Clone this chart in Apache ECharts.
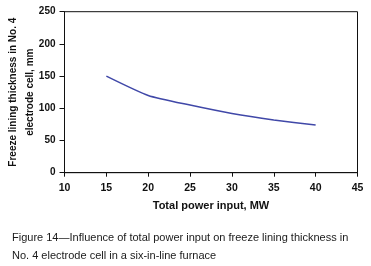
<!DOCTYPE html>
<html>
<head>
<meta charset="utf-8">
<script src="https://cdn.jsdelivr.net/npm/echarts@6/dist/echarts.min.js"></script>
<style>
  html, body { margin: 0; padding: 0; background: #fff; }
  #chart { width: 371px; height: 266px; }
</style>
</head>
<body>
<div id="chart"></div>
<script>
// values
const powerMW = [15, 20, 25, 30, 35, 40]
const thicknessMM = [150, 120, 105, 92, 82, 74]
const xTicks = [10, 15, 20, 25, 30, 35, 40, 45]
const yTicks = [0, 50, 100, 150, 200, 250]
const caption = 'Figure 14\u2014Influence of total power input on freeze lining thickness in\nNo. 4 electrode cell in a six-in-line furnace'

const chart = echarts.init(document.getElementById('chart'))
const font = 'Liberation Sans, Arial, sans-serif'

chart.setOption({
  animation: false,
  backgroundColor: '#fff',
  title: {
    text: caption,
    left: 12,
    top: 229,
    padding: 0,
    textStyle: {
      fontFamily: font,
      fontSize: 11,
      fontWeight: 'normal',
      color: '#1a1a1a',
      lineHeight: 18
    }
  },
  grid: {
    left: 64.5,
    right: 13.5,
    top: 11.7,
    bottom: 93.3,
    outerBoundsMode: 'none',
    containLabel: false,
    show: true,
    borderColor: '#111',
    borderWidth: 1,
    backgroundColor: '#fff'
  },
  xAxis: {
    type: 'value',
    min: xTicks[0],
    max: xTicks[xTicks.length - 1],
    interval: 5,
    name: 'Total power input, MW',
    nameLocation: 'middle',
    nameMoveOverlap: false,
    nameGap: 28,
    nameTextStyle: {
      fontFamily: font,
      fontSize: 11,
      fontWeight: 'bold',
      color: '#111'
    },
    axisLine: { lineStyle: { color: '#111', width: 1 } },
    axisTick: { show: true, inside: false, length: 4, lineStyle: { color: '#111' } },
    axisLabel: {
      fontFamily: font,
      fontSize: 10.5,
      fontWeight: 'bold',
      color: '#111',
      margin: 10
    },
    splitLine: { show: false }
  },
  yAxis: {
    type: 'value',
    min: yTicks[0],
    max: yTicks[yTicks.length - 1],
    interval: 50,
    name: 'Freeze lining thickness in No. 4\nelectrode cell, mm',
    nameLocation: 'middle',
    nameRotate: 90,
    nameMoveOverlap: false,
    nameGap: 26,
    nameTextStyle: {
      fontFamily: font,
      fontSize: 10,
      fontWeight: 'bold',
      color: '#111',
      lineHeight: 17
    },
    axisLine: { show: true, lineStyle: { color: '#111', width: 1 } },
    axisTick: { show: true, inside: false, length: 5, lineStyle: { color: '#111' } },
    axisLabel: {
      fontFamily: font,
      fontSize: 10,
      fontWeight: 'bold',
      color: '#111',
      margin: 9
    },
    splitLine: { show: false }
  },
  series: [{
    type: 'line',
    data: powerMW.map((x, i) => [x, thicknessMM[i]]),
    symbol: 'none',
    smooth: 0.2,
    lineStyle: { color: '#4048a8', width: 1.5 }
  }]
})
</script>
</body>
</html>
